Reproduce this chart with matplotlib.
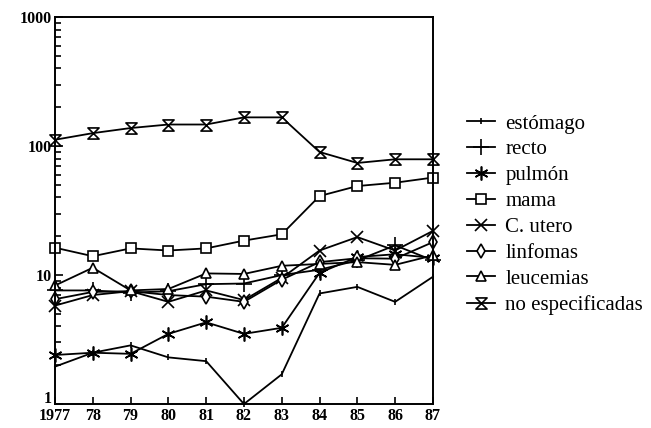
import matplotlib.pyplot as plt
from matplotlib.path import Path
from matplotlib.ticker import FixedLocator, LogLocator, NullFormatter
from matplotlib.transforms import ScaledTranslation

plt.rcParams['font.family'] = ['Liberation Serif', 'DejaVu Serif']

# años y tasas por localización
years = [1977, 1978, 1979, 1980, 1981, 1982, 1983, 1984, 1985, 1986, 1987]
year_labels = ['1977', '78', '79', '80', '81', '82', '83', '84', '85', '86', '87']

estomago = [1.95, 2.5, 2.85, 2.3, 2.15, 1.0, 1.7, 7.2, 8.1, 6.2, 9.7]
recto = [7.6, 7.6, 7.3, 7.5, 8.5, 8.6, 10.0, 11.0, 13.0, 17.0, 13.0]
pulmon = [2.4, 2.5, 2.45, 3.5, 4.3, 3.5, 3.9, 10.4, 13.8, 14.5, 13.6]
mama = [16.3, 14.0, 16.1, 15.5, 16.1, 18.5, 20.7, 41.0, 49.0, 52.0, 57.0]
c_utero = [5.8, 7.0, 7.5, 6.2, 7.6, 6.4, 9.5, 15.5, 19.7, 15.5, 22.0]
linfomas = [6.5, 7.4, 7.5, 7.0, 6.8, 6.2, 9.2, 12.6, 13.5, 13.4, 18.0]
leucemias = [8.3, 11.4, 7.6, 7.8, 10.3, 10.2, 11.8, 12.2, 12.6, 12.0, 14.2]
no_espec = [112, 126, 138, 147, 147, 167, 167, 90, 74, 79, 79]

hourglass = Path([(-1, 1), (1, 1), (-1, -1), (1, -1), (-1, 1)],
                 [Path.MOVETO, Path.LINETO, Path.LINETO, Path.LINETO, Path.CLOSEPOLY])
star6 = (6, 2, 0)

series = [
    ('estómago', estomago, '|', 4),
    ('recto', recto, '+', 11),
    ('pulmón', pulmon, star6, 10),
    ('mama', mama, 's', 7),
    ('C. utero', c_utero, 'x', 8),
    ('linfomas', linfomas, 'd', 7),
    ('leucemias', leucemias, '^', 7),
    ('no especificadas', no_espec, hourglass, 8),
]

fig = plt.figure(figsize=(6.51, 4.28), dpi=100)
ax = fig.add_axes([0.0845, 0.056, 0.5805, 0.904])

for name, vals, mk, ms in series:
    ax.plot(years, vals, color='black', lw=1.3, marker=mk, markersize=ms,
            markerfacecolor='white', markeredgecolor='black', markeredgewidth=1.2,
            label=name, clip_on=False)

ax.set_yscale('log')
ax.set_ylim(1, 1000)
ax.set_xlim(1977, 1987)
ax.set_xticks(years)
ax.set_xticklabels(year_labels)
ax.yaxis.set_major_locator(FixedLocator([1, 10, 100, 1000]))
ax.set_yticklabels(['1', '10', '100', '1000'])
ax.yaxis.set_minor_locator(LogLocator(base=10, subs=range(2, 10)))
ax.yaxis.set_minor_formatter(NullFormatter())

ax.tick_params(axis='both', which='major', direction='in', length=6, width=1.2,
               labelsize=11.5, pad=2)
ax.tick_params(axis='y', which='minor', direction='in', length=4, width=1.2)
ax.tick_params(axis='x', which='major', length=5, pad=3)
for lab in ax.get_xticklabels() + ax.get_yticklabels():
    lab.set_fontweight('bold')
# subir el "1" para que no choque con "1977"
ylabs = ax.get_yticklabels()
ylabs[0].set_transform(ylabs[0].get_transform() + ScaledTranslation(0, 0.07, fig.dpi_scale_trans))
for sp in ax.spines.values():
    sp.set_linewidth(1.4)

ax.legend(loc='center left', bbox_to_anchor=(1.04, 0.49), frameon=False,
          fontsize=15, handlelength=1.35, handletextpad=0.5, labelspacing=0.3)

fig.savefig('out.png', dpi=100)
